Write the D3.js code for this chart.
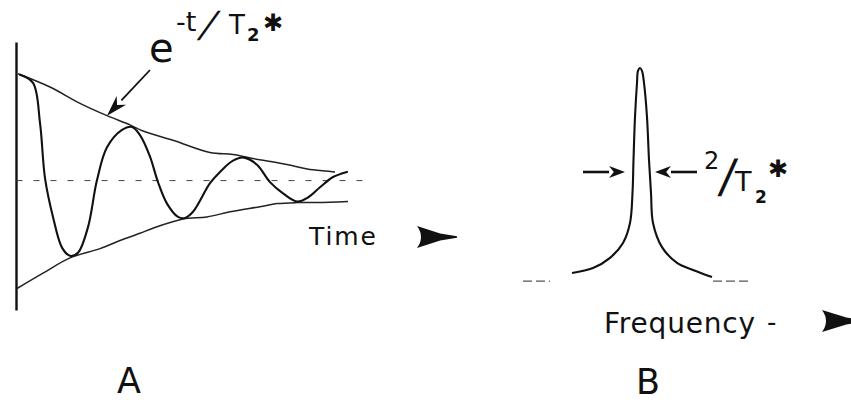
<!DOCTYPE html>
<html>
<head>
<meta charset="utf-8">
<script src="https://cdn.jsdelivr.net/npm/d3@7"></script>
<style>
  html, body { margin: 0; padding: 0; background: #fff; }
  svg { display: block; }
  text { font-family: "DejaVu Sans", "Noto Sans", sans-serif; fill: #111; }
</style>
</head>
<body>
<svg id="fig" width="851" height="402"></svg>
<script>
// ---- Panel A: free induction decay (time, relative signal) ----
const fidTime   = [0.4, 1.7, 2.4, 2.9, 3.7, 4.6, 5.4, 6.2, 7.2, 8.1, 9.1, 10.6, 11.6, 12.4, 13.4, 14.2, 15.1, 16.2, 16.9, 17.7, 19.4, 20.4, 21.7, 22.8, 24.1, 25.4, 26.7, 28.1, 29.2, 30.4, 31.7, 33.1];
const fidSignal = [1.03, 0.95, 0.56, 0.02, -0.36, -0.66, -0.74, -0.71, -0.46, 0.00, 0.32, 0.49, 0.52, 0.44, 0.23, -0.02, -0.23, -0.36, -0.37, -0.31, -0.03, 0.08, 0.19, 0.22, 0.15, -0.02, -0.13, -0.21, -0.17, -0.07, 0.03, 0.08];

// decay envelope, upper and lower branches
const envTopTime     = [0.2, 3.4, 6.4, 9.1, 11.4, 12.7, 15.7, 19.4, 21.7, 23.7, 26.7, 29.7, 31.9];
const envTopValue    = [1.04, 0.91, 0.75, 0.63, 0.54, 0.48, 0.39, 0.27, 0.25, 0.21, 0.16, 0.10, 0.08];
const envBottomTime  = [0.1, 2.7, 5.4, 8.4, 10.4, 12.4, 13.7, 16.7, 19.1, 21.4, 24.4, 26.1, 28.1, 30.1, 33.2];
const envBottomValue = [-1.06, -0.91, -0.76, -0.67, -0.59, -0.52, -0.47, -0.38, -0.36, -0.31, -0.26, -0.23, -0.22, -0.22, -0.21];

// ---- Panel B: absorption line (frequency offset, relative intensity) ----
const freqOffset    = [-6.8, -4.7, -3.0, -1.7, -1.0, -0.75, -0.65, -0.5, -0.3, -0.2, 0.0, 0.2, 0.4, 0.7, 0.9, 1.1, 1.3, 2.2, 3.7, 5.3, 7.2];
const lineIntensity = [0.014, 0.038, 0.087, 0.159, 0.255, 0.399, 0.558, 0.764, 0.928, 0.986, 1.0, 0.986, 0.928, 0.764, 0.558, 0.399, 0.255, 0.139, 0.063, 0.029, -0.005];
const halfMax = 0.5;                       // level of the width marker
const widthArrowTails = [-5.7, 5.7];
const widthArrowTips  = [-1.5, 1.5];
const baselineSegments = [[-11.7, -9.0], [7.3, 11.0]];

const axisTitles  = ["Time", "Frequency"];
const panelLabels = ["A", "B"];

// ---- scales ----
const xA = d3.scaleLinear().domain([0, 35]).range([16, 366]);
const yA = d3.scaleLinear().domain([-1.27, 1.35]).range([310, 42]);
const xB = d3.scaleLinear().domain([-10, 10]).range([540, 740]);
const yB = d3.scaleLinear().domain([0, 1]).range([276, 68]);

const svg = d3.select("#fig");
const ink = "#111";

// ---------- Panel A ----------
const gA = svg.append("g");

// vertical signal axis
const yAxis = gA.append("g")
  .attr("transform", `translate(${xA(0)},0)`)
  .call(d3.axisLeft(yA).tickValues([]).tickSizeOuter(0));
yAxis.select(".domain").attr("stroke", ink).attr("stroke-width", 2.4);

// dashed zero line along the time axis
const tAxis = gA.append("g")
  .attr("transform", `translate(0,${yA(0)})`)
  .call(d3.axisBottom(xA).tickValues([]).tickSizeOuter(0));
tAxis.select(".domain").attr("stroke", "#444").attr("stroke-width", 1)
  .attr("stroke-dasharray", "6,11");

const lineA = d3.line()
  .x(d => xA(d[0])).y(d => yA(d[1]))
  .curve(d3.curveCatmullRom.alpha(0.5));

gA.append("path").datum(d3.zip(envTopTime, envTopValue))
  .attr("d", lineA).attr("fill", "none").attr("stroke", "#222").attr("stroke-width", 1.5);
gA.append("path").datum(d3.zip(envBottomTime, envBottomValue))
  .attr("d", lineA).attr("fill", "none").attr("stroke", "#222").attr("stroke-width", 1.5);
gA.append("path").datum(d3.zip(fidTime, fidSignal))
  .attr("d", lineA).attr("fill", "none").attr("stroke", ink).attr("stroke-width", 2.1)
  .attr("stroke-linejoin", "round").attr("stroke-linecap", "round");

// filled arrow helper: from (x0,y0) to tip (x1,y1)
function arrow(g, x0, y0, x1, y1, headLen, headHalf, width) {
  const a = Math.atan2(y1 - y0, x1 - x0);
  const bx = x1 - headLen * Math.cos(a), by = y1 - headLen * Math.sin(a);
  g.append("line").attr("x1", x0).attr("y1", y0).attr("x2", bx).attr("y2", by)
    .attr("stroke", ink).attr("stroke-width", width);
  const nx = -Math.sin(a) * headHalf, ny = Math.cos(a) * headHalf;
  g.append("path")
    .attr("d", `M${x1},${y1}L${bx + nx},${by + ny}L${bx + 0.3 * headLen * Math.cos(a)},${by + 0.3 * headLen * Math.sin(a)}L${bx - nx},${by - ny}Z`)
    .attr("fill", ink);
}

// envelope label and pointer
const tipT = envTopTime[3], tipV = envTopValue[3];
arrow(gA, 150, 70, xA(tipT), yA(tipV), 21, 6.5, 1.8);

const lab = gA.append("g");
lab.append("text").attr("x", 149).attr("y", 62).attr("font-size", 40).text("e");
lab.append("text").attr("x", 176).attr("y", 31).attr("font-size", 27).text("-t");
lab.append("text").attr("transform", "translate(198,37) skewX(-22)").attr("font-size", 36).text("/");
lab.append("text").attr("x", 229).attr("y", 34).attr("font-size", 26).text("T");
lab.append("text").attr("x", 247).attr("y", 41).attr("font-size", 18).attr("font-weight", "bold").text("2");
lab.append("text").attr("x", 263).attr("y", 31).attr("font-size", 24).text("\u2731");

// time axis title and arrow
gA.append("text").attr("x", 309).attr("y", 245).attr("font-size", 25)
  .attr("textLength", 67).attr("lengthAdjust", "spacing").text(axisTitles[0]);

function bigArrow(g, xBack, y, xTip) {
  const L = xTip - xBack;
  g.append("path")
    .attr("d", `M${xBack},${y - 11}L${xBack + 0.58 * L},${y - 3.5}L${xTip},${y - 0.8}L${xTip},${y + 0.8}L${xBack + 0.58 * L},${y + 3.5}L${xBack},${y + 11}Q${xBack + 8},${y} ${xBack},${y - 11}Z`)
    .attr("fill", ink);
}
bigArrow(gA, 417, 237, 457);

gA.append("text").attr("x", 117).attr("y", 393).attr("font-size", 35).text(panelLabels[0]);

// ---------- Panel B ----------
const gB = svg.append("g");

gB.selectAll("line.base").data(baselineSegments).join("line")
  .attr("class", "base")
  .attr("x1", d => xB(d[0])).attr("x2", d => xB(d[1]))
  .attr("y1", yB(-0.025)).attr("y2", yB(-0.025))
  .attr("stroke", "#555").attr("stroke-width", 1.2).attr("stroke-dasharray", "9,4");

const lineB = d3.line()
  .x(d => xB(d[0])).y(d => yB(d[1]))
  .curve(d3.curveCatmullRom.alpha(0.5));
gB.append("path").datum(d3.zip(freqOffset, lineIntensity))
  .attr("d", lineB).attr("fill", "none").attr("stroke", ink).attr("stroke-width", 2.1)
  .attr("stroke-linejoin", "round");

// full-width-at-half-height markers
widthArrowTails.forEach((t, i) => {
  arrow(gB, xB(t), yB(halfMax), xB(widthArrowTips[i]), yB(halfMax), 16, 6, 2.6);
});

const labB = gB.append("g");
labB.append("text").attr("x", 704).attr("y", 169).attr("font-size", 24).text("2");
labB.append("text").attr("transform", "translate(718,192) skewX(-8)").attr("font-size", 46).text("/");
labB.append("text").attr("x", 735).attr("y", 191).attr("font-size", 27).text("T");
labB.append("text").attr("x", 755).attr("y", 203).attr("font-size", 17).attr("font-weight", "bold").text("2");
labB.append("text").attr("x", 768).attr("y", 177).attr("font-size", 24).text("\u2731");

gB.append("text").attr("x", 604).attr("y", 333).attr("font-size", 28)
  .attr("textLength", 151).attr("lengthAdjust", "spacing").text(axisTitles[1]);
gB.append("text").attr("x", 767).attr("y", 331).attr("font-size", 26).text("-");
bigArrow(gB, 822, 321, 864);

gB.append("text").attr("x", 636).attr("y", 394).attr("font-size", 35).text(panelLabels[1]);
</script>
</body>
</html>
